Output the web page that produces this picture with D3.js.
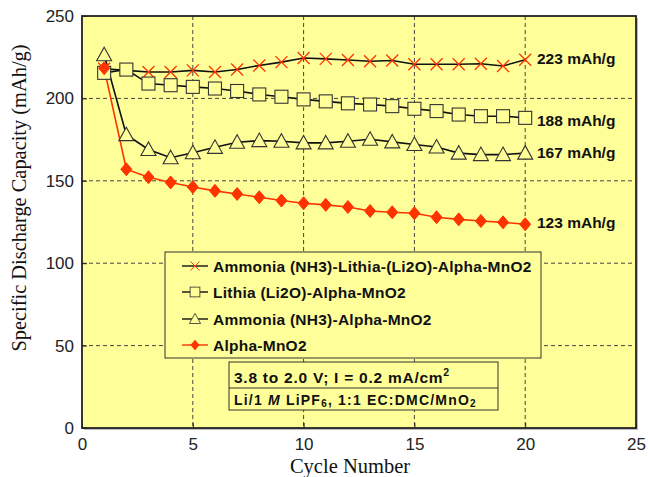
<!DOCTYPE html>
<html><head><meta charset="utf-8">
<script src="https://cdn.jsdelivr.net/npm/d3@7"></script>
<style>body{margin:0;background:#fff}svg{display:block}</style>
</head><body>
<svg id="c" width="648" height="477"></svg>
<script>
const cycles = d3.range(1, 21);
const ammoniaLithia = [218, 217, 216, 216, 217, 216, 217.5, 220, 222, 224.5, 224, 223.3, 222.5, 223, 220.7, 220.7, 220.7, 221, 219.7, 223.5];
const lithia = [215.5, 217.5, 209, 208, 207, 206, 204.5, 202.4, 201, 199.4, 198.2, 197, 196.3, 195.3, 193.7, 192.3, 190.2, 189.2, 189.2, 188.2];
const ammonia = [226.5, 178, 169, 164, 167, 170.3, 173.4, 174.4, 174, 173, 173, 174, 175.2, 173.6, 172, 170.5, 166.8, 165.9, 165.9, 166.8];
const alpha = [218.3, 157, 152.2, 149, 146.2, 143.9, 142, 140, 138, 136.4, 135.4, 134.1, 131.7, 130.9, 130.3, 127.9, 126.6, 125.6, 124.8, 123.6];
const seriesNames = ["Ammonia (NH3)-Lithia-(Li2O)-Alpha-MnO2", "Lithia (Li2O)-Alpha-MnO2", "Ammonia (NH3)-Alpha-MnO2", "Alpha-MnO2"];
const endLabels = ["223 mAh/g", "188 mAh/g", "167 mAh/g", "123 mAh/g"];
const xTicks = [0, 5, 10, 15, 20, 25];
const yTicks = [0, 50, 100, 150, 200, 250];

const svg = d3.select("#c");
const L = 82, R = 636, T = 16, B = 428;
const x = d3.scaleLinear().domain([0, 25]).range([L, R]);
const y = d3.scaleLinear().domain([0, 250]).range([B, T]);
const yellow = "#FFFF99", red = "#FF3300";
const sans = "Liberation Sans, Arial, sans-serif";

// plot background
svg.append("rect").attr("x", L + 2).attr("y", T + 2).attr("width", R - L).attr("height", B - T).attr("fill", "#bbb");
svg.append("rect").attr("x", L).attr("y", T).attr("width", R - L).attr("height", B - T).attr("fill", yellow);

// grid
const g = svg.append("g");
g.selectAll(".vg").data(xTicks.filter(d => d > 0 && d < 25)).join("line")
  .attr("x1", d => x(d)).attr("x2", d => x(d)).attr("y1", T).attr("y2", B)
  .attr("stroke", "#444").attr("stroke-width", 1).attr("stroke-dasharray", "4,3");
g.selectAll(".hg").data(yTicks.filter(d => d > 0 && d < 250)).join("line")
  .attr("y1", d => y(d)).attr("y2", d => y(d)).attr("x1", L).attr("x2", R)
  .attr("stroke", "#444").attr("stroke-width", 1).attr("stroke-dasharray", "4,3");

// axes
const xAxis = d3.axisBottom(x).tickValues(xTicks).tickSize(-5).tickPadding(8).tickFormat(d3.format("d"));
const yAxis = d3.axisLeft(y).tickValues(yTicks).tickSize(-5).tickPadding(8).tickFormat(d3.format("d"));
const ax = svg.append("g").attr("transform", `translate(0,${B})`).call(xAxis);
const ay = svg.append("g").attr("transform", `translate(${L},0)`).call(yAxis);
[ax, ay].forEach(a => {
  a.select(".domain").remove();
  a.selectAll("line").attr("stroke", "#222");
  a.selectAll("text").attr("font-family", sans).attr("font-size", 17).attr("fill", "#222");
});
ax.selectAll("text").attr("dy", "0.85em");

svg.append("rect").attr("x", L).attr("y", T).attr("width", R - L).attr("height", B - T)
  .attr("fill", "none").attr("stroke", "#222").attr("stroke-width", 1.8);

// titles
svg.append("text").attr("x", 350).attr("y", 473).attr("text-anchor", "middle")
  .attr("font-family", "Liberation Serif, Times New Roman, serif").attr("font-size", 20.5).attr("fill", "#111").text("Cycle Number");
svg.append("text").attr("transform", `translate(26,198) rotate(-90)`).attr("text-anchor", "middle")
  .attr("font-family", "Liberation Serif, Times New Roman, serif").attr("font-size", 20.4).attr("fill", "#111")
  .text("Specific Discharge Capacity (mAh/g)");

// markers
function drawMarker(sel, type) {
  if (type === 0) {
    sel.append("path").attr("d", "M-6,-6L6,6M-6,6L6,-6").attr("stroke", red).attr("stroke-width", 1.3).attr("fill", "none");
  } else if (type === 1) {
    sel.append("rect").attr("x", -6.5).attr("y", -6.5).attr("width", 13).attr("height", 13)
      .attr("fill", yellow).attr("stroke", "#333").attr("stroke-width", 1.1);
  } else if (type === 2) {
    sel.append("path").attr("d", "M0,-7.5L7.5,6L-7.5,6Z").attr("fill", yellow).attr("stroke", "#333").attr("stroke-width", 1.1);
  } else {
    sel.append("path").attr("d", "M0,-6.5L5.5,0L0,6.5L-5.5,0Z").attr("fill", red).attr("stroke", red).attr("stroke-width", 1);
  }
}

const allSeries = [ammoniaLithia, lithia, ammonia, alpha];
const lineColors = ["#111", "#111", "#111", red];
const line = d3.line().x((d, i) => x(cycles[i])).y(d => y(d));
const drawOrder = [0, 1, 2, 3];
drawOrder.forEach(si => {
  svg.append("path").datum(allSeries[si]).attr("d", line).attr("fill", "none")
    .attr("stroke", lineColors[si]).attr("stroke-width", 1.6);
});
drawOrder.forEach(si => {
  svg.append("g").selectAll("g").data(allSeries[si]).join("g")
    .attr("transform", (d, i) => `translate(${x(cycles[i])},${y(d)})`)
    .each(function () { drawMarker(d3.select(this), si); });
});

// end labels
const labelY = [64, 126, 158, 228];
endLabels.forEach((t, i) => {
  svg.append("text").attr("x", 537).attr("y", labelY[i])
    .attr("font-family", sans).attr("font-weight", "bold").attr("font-size", 15.5).attr("fill", "#111").text(t);
});

// legend
svg.append("rect").attr("x", 165).attr("y", 252).attr("width", 376).attr("height", 106)
  .attr("fill", yellow).attr("stroke", "#333").attr("stroke-width", 1);
const rowY = [266, 292, 319, 345];
seriesNames.forEach((n, i) => {
  svg.append("line").attr("x1", 182).attr("x2", 208).attr("y1", rowY[i]).attr("y2", rowY[i])
    .attr("stroke", lineColors[i]).attr("stroke-width", 1.4);
  const m = svg.append("g").attr("transform", `translate(195,${rowY[i]}) scale(0.75)`);
  drawMarker(m, i);
  svg.append("text").attr("x", 213).attr("y", rowY[i] + 5.5)
    .attr("font-family", sans).attr("font-weight", "bold").attr("font-size", 15.5).attr("letter-spacing", 0.25).attr("fill", "#111").text(n);
});

// conditions box
svg.append("rect").attr("x", 229).attr("y", 362).attr("width", 269).attr("height", 48)
  .attr("fill", yellow).attr("stroke", "#333").attr("stroke-width", 1);
svg.append("line").attr("x1", 229).attr("x2", 498).attr("y1", 388).attr("y2", 388).attr("stroke", "#333").attr("stroke-width", 1);
const t1 = svg.append("text").attr("x", 234).attr("y", 383)
  .attr("font-family", sans).attr("font-weight", "bold").attr("font-size", 15.5).attr("letter-spacing", 0.75).attr("fill", "#111");
t1.append("tspan").text("3.8 to 2.0 V; I = 0.2 mA/cm");
t1.append("tspan").attr("dy", -7).attr("font-size", 10.5).text("2");
const t2 = svg.append("text").attr("x", 234).attr("y", 405)
  .attr("font-family", sans).attr("font-weight", "bold").attr("font-size", 14).attr("letter-spacing", 1.2).attr("fill", "#111");
t2.append("tspan").text("Li/1 ");
t2.append("tspan").attr("font-style", "italic").text("M");
t2.append("tspan").text("  LiPF");
t2.append("tspan").attr("font-size", 10).attr("dy", 2).text("6");
t2.append("tspan").attr("dy", -2).text(", 1:1 EC:DMC/MnO");
t2.append("tspan").attr("font-size", 10).attr("dy", 2).text("2");
</script>
</body></html>
